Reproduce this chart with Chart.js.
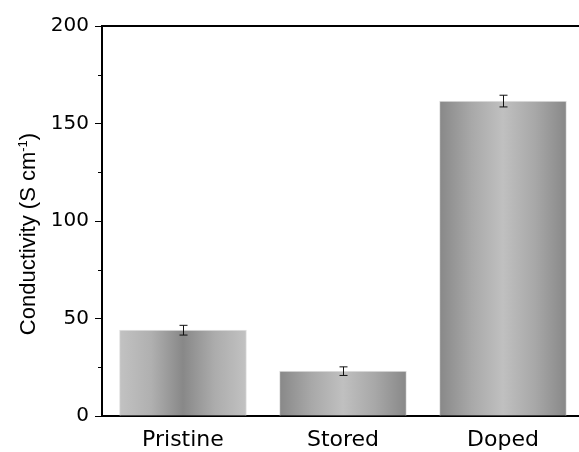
<!DOCTYPE html>
<html lang="en">
<head>
<meta charset="UTF-8">
<title>Conductivity</title>
<script src="https://cdn.jsdelivr.net/npm/chart.js@4"></script>
<style>
    body {
        margin: 0;
        padding: 0;
        background: #fff;
    }
    #wrap {
        width: 579px;
        height: 452px;
    }
</style>
</head>
<body>
<div id="wrap"><canvas id="chart"></canvas></div>
<script>
// data
const categories = ['Pristine', 'Stored', 'Doped'];
const conductivity = [44, 23, 161.5];
const errors = [2.5, 2.2, 3];
const yTicks = [0, 50, 100, 150, 200];
const minorTicks = [25, 75, 125, 175];

const BAR_W = 127;

// light-dark-light for the first bar, dark-light-dark for the others
function barGradient(ctx, left, right, index) {
    const g = ctx.createLinearGradient(left, 0, right, 0);
    if (index === 0) {
        g.addColorStop(0, '#c2c2c2');
        g.addColorStop(0.25, '#b0b0b0');
        g.addColorStop(0.5, '#888888');
        g.addColorStop(0.75, '#acacac');
        g.addColorStop(1, '#c2c2c2');
    } else {
        g.addColorStop(0, '#888888');
        g.addColorStop(0.25, '#a8a8a8');
        g.addColorStop(0.5, '#c0c0c0');
        g.addColorStop(0.75, '#a8a8a8');
        g.addColorStop(1, '#888888');
    }
    return g;
}

const extras = {
    id: 'extras',
    afterDatasetsDraw(chart) {
        const ctx = chart.ctx;
        const x = chart.scales.x;
        const y = chart.scales.y;
        const area = chart.chartArea;
        ctx.save();

        // error bars
        ctx.strokeStyle = '#111';
        ctx.lineWidth = 1;
        conductivity.forEach((v, i) => {
            const cx = Math.round(x.getPixelForValue(i)) + 0.5;
            const top = y.getPixelForValue(v + errors[i]);
            const bot = y.getPixelForValue(v - errors[i]);
            ctx.beginPath();
            ctx.moveTo(cx, top);
            ctx.lineTo(cx, bot);
            ctx.moveTo(cx - 4, top);
            ctx.lineTo(cx + 4, top);
            ctx.moveTo(cx - 4, bot);
            ctx.lineTo(cx + 4, bot);
            ctx.stroke();
        });

        // top frame line
        ctx.strokeStyle = '#000';
        ctx.lineWidth = 2;
        ctx.beginPath();
        ctx.moveTo(area.left - 1, area.top);
        ctx.lineTo(chart.width, area.top);
        ctx.stroke();

        // minor ticks on y
        minorTicks.forEach(t => {
            const py = Math.round(y.getPixelForValue(t)) + 0.5;
            ctx.lineWidth = 1;
            ctx.beginPath();
            ctx.moveTo(area.left - 4, py);
            ctx.lineTo(area.left, py);
            ctx.stroke();
        });

        // axis title with superscript
        ctx.translate(35, 234);
        ctx.rotate(-Math.PI / 2);
        ctx.fillStyle = '#000';
        ctx.textBaseline = 'alphabetic';
        const big = '22px "Liberation Sans"';
        const small = '13px "Liberation Sans"';
        const main = 'Conductivity (S cm';
        ctx.font = big;
        const w1 = ctx.measureText(main).width;
        ctx.font = small;
        const w2 = ctx.measureText('-1').width;
        ctx.font = big;
        const w3 = ctx.measureText(')').width;
        let sx = -(w1 + w2 + w3) / 2;
        ctx.fillText(main, sx, 0);
        sx += w1;
        ctx.font = small;
        ctx.fillText('-1', sx, -8);
        sx += w2;
        ctx.font = big;
        ctx.fillText(')', sx, 0);
        ctx.restore();
    }
};

new Chart(document.getElementById('chart'), {
    type: 'bar',
    data: {
        datasets: [{
            data: conductivity.map((v, i) => ({ x: i, y: v })),
            backgroundColor: function (context) {
                const chart = context.chart;
                if (!chart.chartArea || !chart.scales.x) return '#aaaaaa';
                const cx = chart.scales.x.getPixelForValue(context.dataIndex);
                return barGradient(chart.ctx, cx - BAR_W / 2, cx + BAR_W / 2, context.dataIndex);
            },
            borderColor: '#e2e2e2',
            borderWidth: 1,
            barThickness: BAR_W
        }]
    },
    options: {
        responsive: true,
        maintainAspectRatio: false,
        animation: false,
        layout: {
            padding: { top: 26, right: 0, bottom: 0, left: 0 }
        },
        plugins: {
            legend: { display: false },
            tooltip: { enabled: false }
        },
        scales: {
            x: {
                type: 'linear',
                offset: false,
                min: -0.506,
                max: 2.475,
                afterBuildTicks(scale) {
                    scale.ticks = categories.map((c, i) => ({ value: i }));
                },
                grid: { display: false },
                border: { display: true, color: '#000', width: 2 },
                ticks: {
                    color: '#000',
                    padding: 3,
                    font: { family: 'DejaVu Sans', size: 22 },
                    callback: (v) => categories[v]
                },
                afterFit(scale) { scale.height = 36; }
            },
            y: {
                min: 0,
                max: 200,
                afterBuildTicks(scale) {
                    scale.ticks = yTicks.map(v => ({ value: v }));
                },
                grid: {
                    drawOnChartArea: false,
                    drawTicks: true,
                    tickLength: 7,
                    tickWidth: 1,
                    tickColor: '#000'
                },
                border: { display: true, color: '#000', width: 2 },
                ticks: {
                    color: '#000',
                    padding: 6,
                    font: { family: 'DejaVu Sans', size: 20 }
                },
                afterFit(scale) { scale.width = 102; }
            }
        }
    },
    plugins: [extras]
});
</script>
</body>
</html>
